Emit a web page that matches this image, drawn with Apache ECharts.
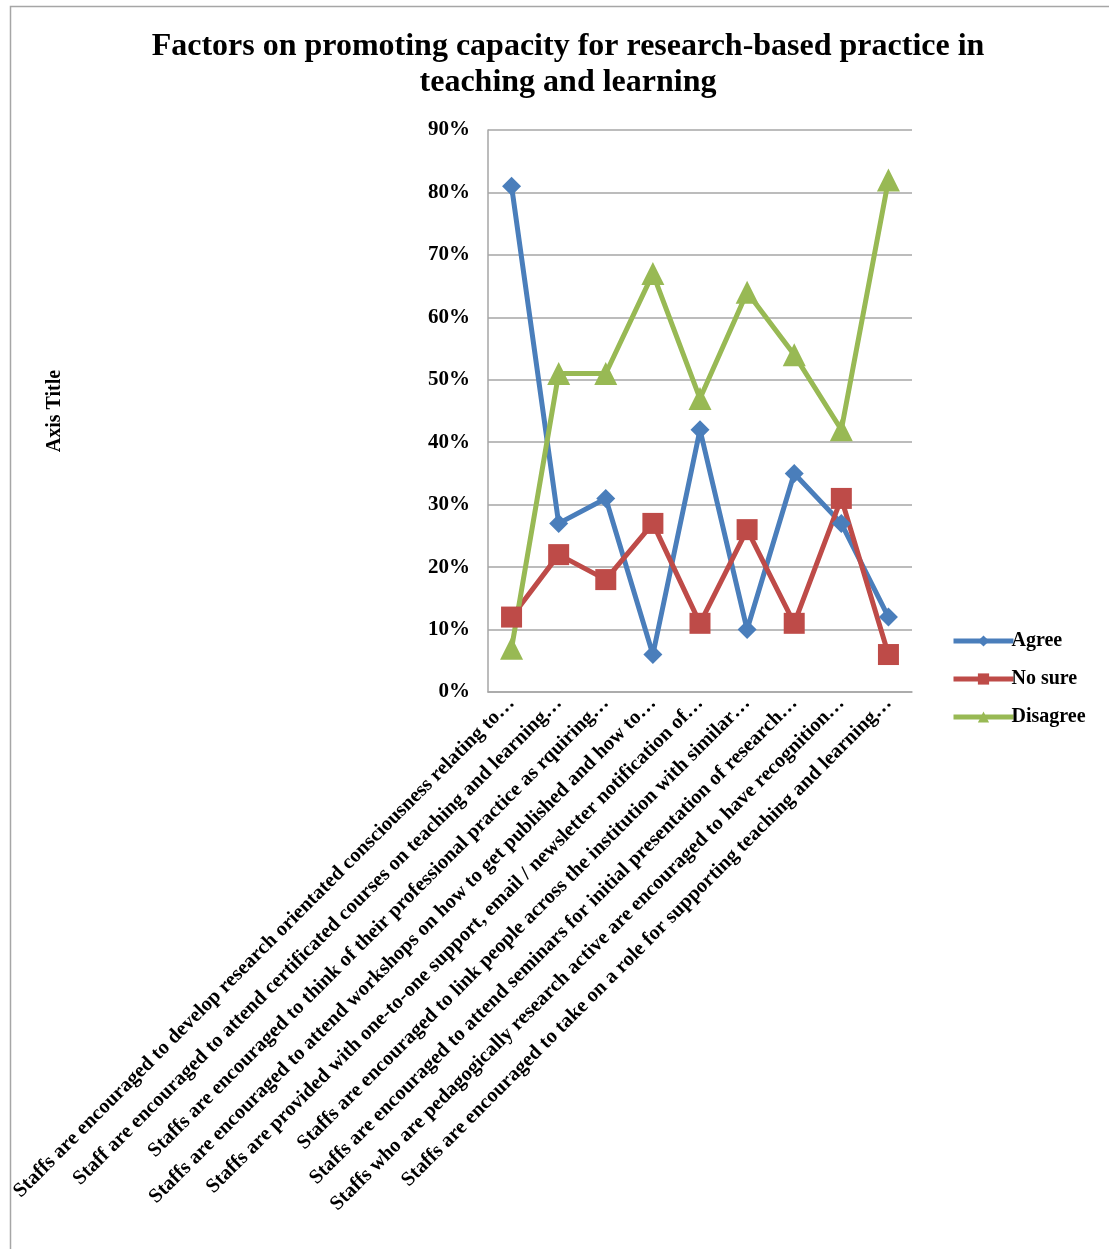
<!DOCTYPE html>
<html>
<head>
<meta charset="utf-8">
<script src="https://cdn.jsdelivr.net/npm/echarts@6/dist/echarts.min.js"></script>
<style>
  html, body { margin: 0; padding: 0; background: #fff; }
  #chart { width: 1109px; height: 1249px; }
</style>
</head>
<body>
<div id="chart"></div>
<script>
// Survey statements (shortened as they appear on the axis)
const categories = [
  'Staffs are encouraged to develop research orientated consciousness relating to…',
  'Staff are encouraged to attend certificated courses on teaching and learning…',
  'Staffs are encouraged to think of their professional practice as rquiring…',
  'Staffs are encouraged to attend workshops on how to get published and how to…',
  'Staffs are provided with one-to-one support, email / newsletter notification of…',
  'Staffs are encouraged to link people across the institution with similar…',
  'Staffs are encouraged to attend seminars for initial presentation of research…',
  'Staffs who are pedagogically research active are encouraged to have recognition…',
  'Staffs are encouraged to take on a role for supporting teaching and learning…'
];

// Response shares, in percent
const agree    = [81, 27, 31, 6, 42, 10, 35, 27, 12];
const noSure   = [12, 22, 18, 27, 11, 26, 11, 31, 6];
const disagree = [7, 51, 51, 67, 47, 64, 54, 42, 82];

const yTicks = [0, 10, 20, 30, 40, 50, 60, 70, 80, 90];

const FONT = '"Liberation Serif", "Times New Roman", serif';

const chart = echarts.init(document.getElementById('chart'));

function lineSeries(name, data, color, symbol, size) {
  return {
    name: name,
    type: 'line',
    data: data,
    symbol: symbol,
    symbolSize: size,
    lineStyle: { width: 5, color: color },
    itemStyle: { color: color },
    animation: false
  };
}

chart.setOption({
  backgroundColor: '#ffffff',
  textStyle: { fontFamily: FONT },
  title: {
    text: 'Factors on promoting capacity for research-based practice in\nteaching and learning',
    left: 563,
    textAlign: 'center',
    top: 24,
    textStyle: {
      fontFamily: FONT,
      fontWeight: 'bold',
      fontSize: 32,
      lineHeight: 36,
      color: '#000'
    }
  },
  legend: {
    orient: 'vertical',
    left: 946,
    top: 626,
    itemGap: 18,
    itemWidth: 60,
    itemHeight: 14,
    lineStyle: { width: 5 },
    textStyle: { fontFamily: FONT, fontWeight: 'bold', fontSize: 20, color: '#000', padding: [0, 0, 0, -7] },
    data: ['Agree', 'No sure', 'Disagree']
  },
  grid: {
    left: 488,
    top: 130,
    width: 424,
    height: 562,
    containLabel: false
  },
  xAxis: {
    type: 'category',
    data: categories,
    boundaryGap: true,
    axisLine: { lineStyle: { color: '#a6a6a6', width: 1.5 } },
    axisTick: { show: false },
    axisLabel: {
      interval: 0,
      rotate: 45,
      margin: 8,
      fontFamily: FONT,
      fontWeight: 'bold',
      fontSize: 20.5,
      color: '#000'
    }
  },
  yAxis: {
    type: 'value',
    min: 0,
    max: 90,
    interval: 10,
    name: 'Axis Title',
    nameLocation: 'middle',
    nameGap: 423,
    nameTextStyle: { fontFamily: FONT, fontWeight: 'bold', fontSize: 20, color: '#000' },
    axisLine: { show: true, lineStyle: { color: '#a6a6a6', width: 1.5 } },
    axisTick: { show: false },
    splitLine: { lineStyle: { color: '#a6a6a6', width: 1.5 } },
    axisLabel: {
      margin: 18,
      fontFamily: FONT,
      fontWeight: 'bold',
      fontSize: 21,
      color: '#000',
      formatter: function (v) { return yTicks.indexOf(v) >= 0 ? v + '%' : ''; }
    }
  },
  series: [
    lineSeries('Agree', agree, '#4a7ebb', 'diamond', 19),
    lineSeries('No sure', noSure, '#be4b48', 'rect', 21),
    lineSeries('Disagree', disagree, '#98b954', 'triangle', 23)
  ],
  graphic: [{
    type: 'rect',
    left: 8,
    top: 4,
    shape: { width: 1200, height: 1300 },
    style: { fill: 'none', stroke: '#a6a6a6', lineWidth: 1.5 },
    silent: true,
    z: -1
  }]
});
</script>
</body>
</html>
